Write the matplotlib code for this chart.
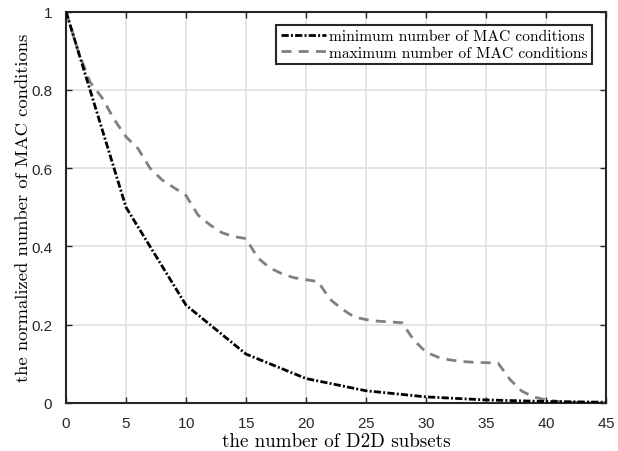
import matplotlib
matplotlib.use("Agg")
import matplotlib.pyplot as plt
import numpy as np

# Minimum number of MAC conditions (normalized), sampled every 5 subsets
min_x = [0, 5, 10, 15, 20, 25, 30, 35, 40, 45]
min_y = [1.0, 0.5, 0.25, 0.125, 0.0625, 0.03125, 0.015625, 0.0078125, 0.00390625, 0.001953125]

# Maximum number of MAC conditions (normalized), per subset count
max_x = list(range(0, 46))
max_y = [1.0, 0.90, 0.82, 0.78, 0.725, 0.68, 0.65, 0.60, 0.57, 0.55,
         0.53, 0.48, 0.455, 0.435, 0.425, 0.42, 0.37, 0.345, 0.33, 0.32,
         0.315, 0.31, 0.265, 0.24, 0.22, 0.213, 0.209, 0.207, 0.205, 0.16,
         0.13, 0.117, 0.11, 0.106, 0.104, 0.103, 0.102, 0.06, 0.03, 0.015,
         0.008, 0.004, 0.002, 0.001, 0.0005, 0.0]

x_ticks = [0, 5, 10, 15, 20, 25, 30, 35, 40, 45]
y_ticks = [0, 0.2, 0.4, 0.6, 0.8, 1.0]
y_tick_labels = ["0", "0.2", "0.4", "0.6", "0.8", "1"]

label_min = "minimum number of MAC conditions"
label_max = "maximum number of MAC conditions"
xlabel = "the number of D2D subsets"
ylabel = "the normalized number of MAC conditions"

plt.rcParams["axes.formatter.use_mathtext"] = True
serif = {"family": "cmr10"}
tick_font = "Liberation Sans"

fig = plt.figure(figsize=(6.18, 4.52), dpi=100)
ax = fig.add_axes([0.1068, 0.1062, 0.8738, 0.8661])

ax.plot(min_x, min_y, color="black", linewidth=2.0,
        dashes=(2.6, 0.8, 0.7, 0.8), label=label_min, zorder=3)
ax.plot(max_x, max_y, color="#808080", linewidth=2.0,
        dashes=(3.6, 2.6), label=label_max, zorder=2)

ax.set_xlim(0, 45)
ax.set_ylim(0, 1)
ax.set_xticks(x_ticks)
ax.set_yticks(y_ticks)
ax.set_yticklabels(y_tick_labels)
for lab in ax.get_xticklabels() + ax.get_yticklabels():
    lab.set_fontfamily(tick_font)
    lab.set_fontsize(11)
    lab.set_color("#262626")

ax.grid(True, color="#e3e3e3", linewidth=1.3)
ax.set_axisbelow(True)
ax.tick_params(direction="in", top=True, right=True, length=4, width=1.0,
               color="#262626")
ax.tick_params(axis="x", pad=9.5)
ax.tick_params(axis="y", pad=10)
for sp in ax.spines.values():
    sp.set_color("#262626")
    sp.set_linewidth(1.5)

ax.set_xlabel(xlabel, fontdict=dict(serif, size=13.7), labelpad=1)
ax.set_ylabel(ylabel, fontdict=dict(serif, size=13.4), labelpad=0)

leg = ax.legend(loc="upper right", bbox_to_anchor=(0.9825, 0.978),
                prop={"family": "cmr10", "size": 11.2},
                frameon=True, fancybox=False, handlelength=2.9,
                handletextpad=0.2, borderpad=0.3, labelspacing=0.15,
                borderaxespad=0.3)
leg.get_frame().set_edgecolor("#262626")
leg.get_frame().set_linewidth(1.5)
leg.get_frame().set_alpha(1.0)

fig.savefig("out.png", dpi=100)
